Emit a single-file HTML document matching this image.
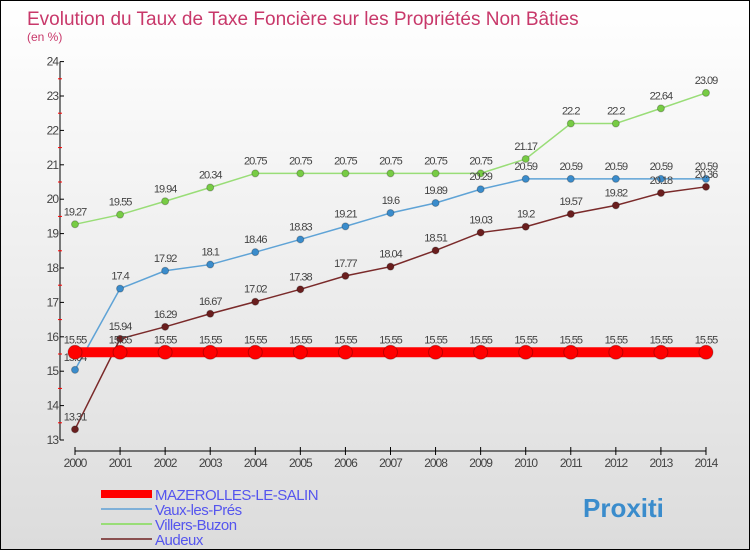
<!DOCTYPE html>
<html><head><meta charset="utf-8"><style>
body{margin:0}
#c{width:750px;height:550px;position:relative;box-sizing:border-box;border:1px solid #000;background:linear-gradient(#fff,#dcdcdc);font-family:"Liberation Sans",sans-serif;overflow:hidden}
</style></head><body>
<div id="c">
<svg id="s" width="748" height="548" xmlns="http://www.w3.org/2000/svg" style="position:absolute;left:0;top:0"></svg>
</div>
<script>
const years=[2000,2001,2002,2003,2004,2005,2006,2007,2008,2009,2010,2011,2012,2013,2014];
const mazerolles=[15.55,15.55,15.55,15.55,15.55,15.55,15.55,15.55,15.55,15.55,15.55,15.55,15.55,15.55,15.55];
const vaux=[15.04,17.4,17.92,18.1,18.46,18.83,19.21,19.6,19.89,20.29,20.59,20.59,20.59,20.59,20.59];
const villers=[19.27,19.55,19.94,20.34,20.75,20.75,20.75,20.75,20.75,20.75,21.17,22.2,22.2,22.64,23.09];
const audeux=[13.31,15.94,16.29,16.67,17.02,17.38,17.77,18.04,18.51,19.03,19.2,19.57,19.82,20.18,20.36];
const yTicks=[13,14,15,16,17,18,19,20,21,22,23,24];
const NS="http://www.w3.org/2000/svg";
const s=document.getElementById('s');
function X(i){return 74+i*45.07;}
function Y(v){return 439-(v-13)*34.4;}
function el(t,a,p){const e=document.createElementNS(NS,t);for(const k in a)e.setAttribute(k,a[k]);(p||s).appendChild(e);return e;}
let t=el('text',{x:26,y:24,'font-size':19,fill:'#c8386a'});t.textContent='Evolution du Taux de Taxe Foncière sur les Propriétés Non Bâties';

t=el('text',{x:26,y:40,'font-size':12,fill:'#c8386a'});t.textContent='(en %)';

// axes
let a=el('line',{x1:59,y1:Y(24),x2:59,y2:Y(13),stroke:'#000'});

yTicks.forEach((v,i)=>{
 el('line',{x1:59,y1:Y(v),x2:63,y2:Y(v),stroke:'#000'});
 if(i<yTicks.length-1)el('line',{x1:57,y1:Y(v+0.5),x2:61,y2:Y(v+0.5),stroke:'#f00'});
 const tt=el('text',{x:57,y:Y(v)+4,'font-size':12,fill:'#444','text-anchor':'end','letter-spacing':'-1'});tt.textContent=v;
 
});
a=el('line',{x1:X(0),y1:450,x2:X(14),y2:450,stroke:'#000'});

years.forEach((y,i)=>{
 el('line',{x1:X(i),y1:446,x2:X(i),y2:454,stroke:'#000'});
 const tt=el('text',{x:X(i),y:466,'font-size':12,fill:'#444','text-anchor':'middle','letter-spacing':'-1'});tt.textContent=y;
 
});
function series(d,col,w,r,name,dcol){
 const g=el('g',{});
 el('polyline',{points:d.map((v,i)=>X(i)+','+Y(v)).join(' '),fill:'none',stroke:col,'stroke-width':w},g);
 d.forEach((v,i)=>{
  const c=el('circle',{cx:X(i),cy:Y(v),r:r,fill:dcol,stroke:'rgba(0,0,0,0.25)'},g);
  
  const tt=el('text',{x:X(i),y:Y(v)-9,'font-size':11,fill:'#444','text-anchor':'middle','letter-spacing':'-1'},g);tt.textContent=v;
 });
}
series(villers,'#99dd77',1.5,3.5,'villers-buzon-series','#77cc44');
series(vaux,'#5fa3d6',1.5,3.5,'vaux-les-pres-series','#3a8ccc');
series(audeux,'#7a2a2a',1.5,3.5,'audeux-series','#6a1e1e');
series(mazerolles,'#f00',10,7,'mazerolles-series','#f00');
// legend
const leg=[['MAZEROLLES-LE-SALIN','#f00',8],['Vaux-les-Prés','#7fb0d8',2],['Villers-Buzon','#99dd77',2],['Audeux','#8a5050',2]];
leg.forEach((l,i)=>{
 const g=el('g',{});
 const y=493+i*15;
 el('line',{x1:100,y1:y,x2:151,y2:y,stroke:l[1],'stroke-width':l[2]},g);
 const tt=el('text',{x:154,y:y+6,'font-size':15,fill:'#5555ee','letter-spacing':'-0.5'},g);tt.textContent=l[0];
});
t=el('text',{x:582,y:516,'font-size':26,'font-weight':'bold',fill:'#3a8ccc'});t.textContent='Proxiti';

</script>
</body></html>
